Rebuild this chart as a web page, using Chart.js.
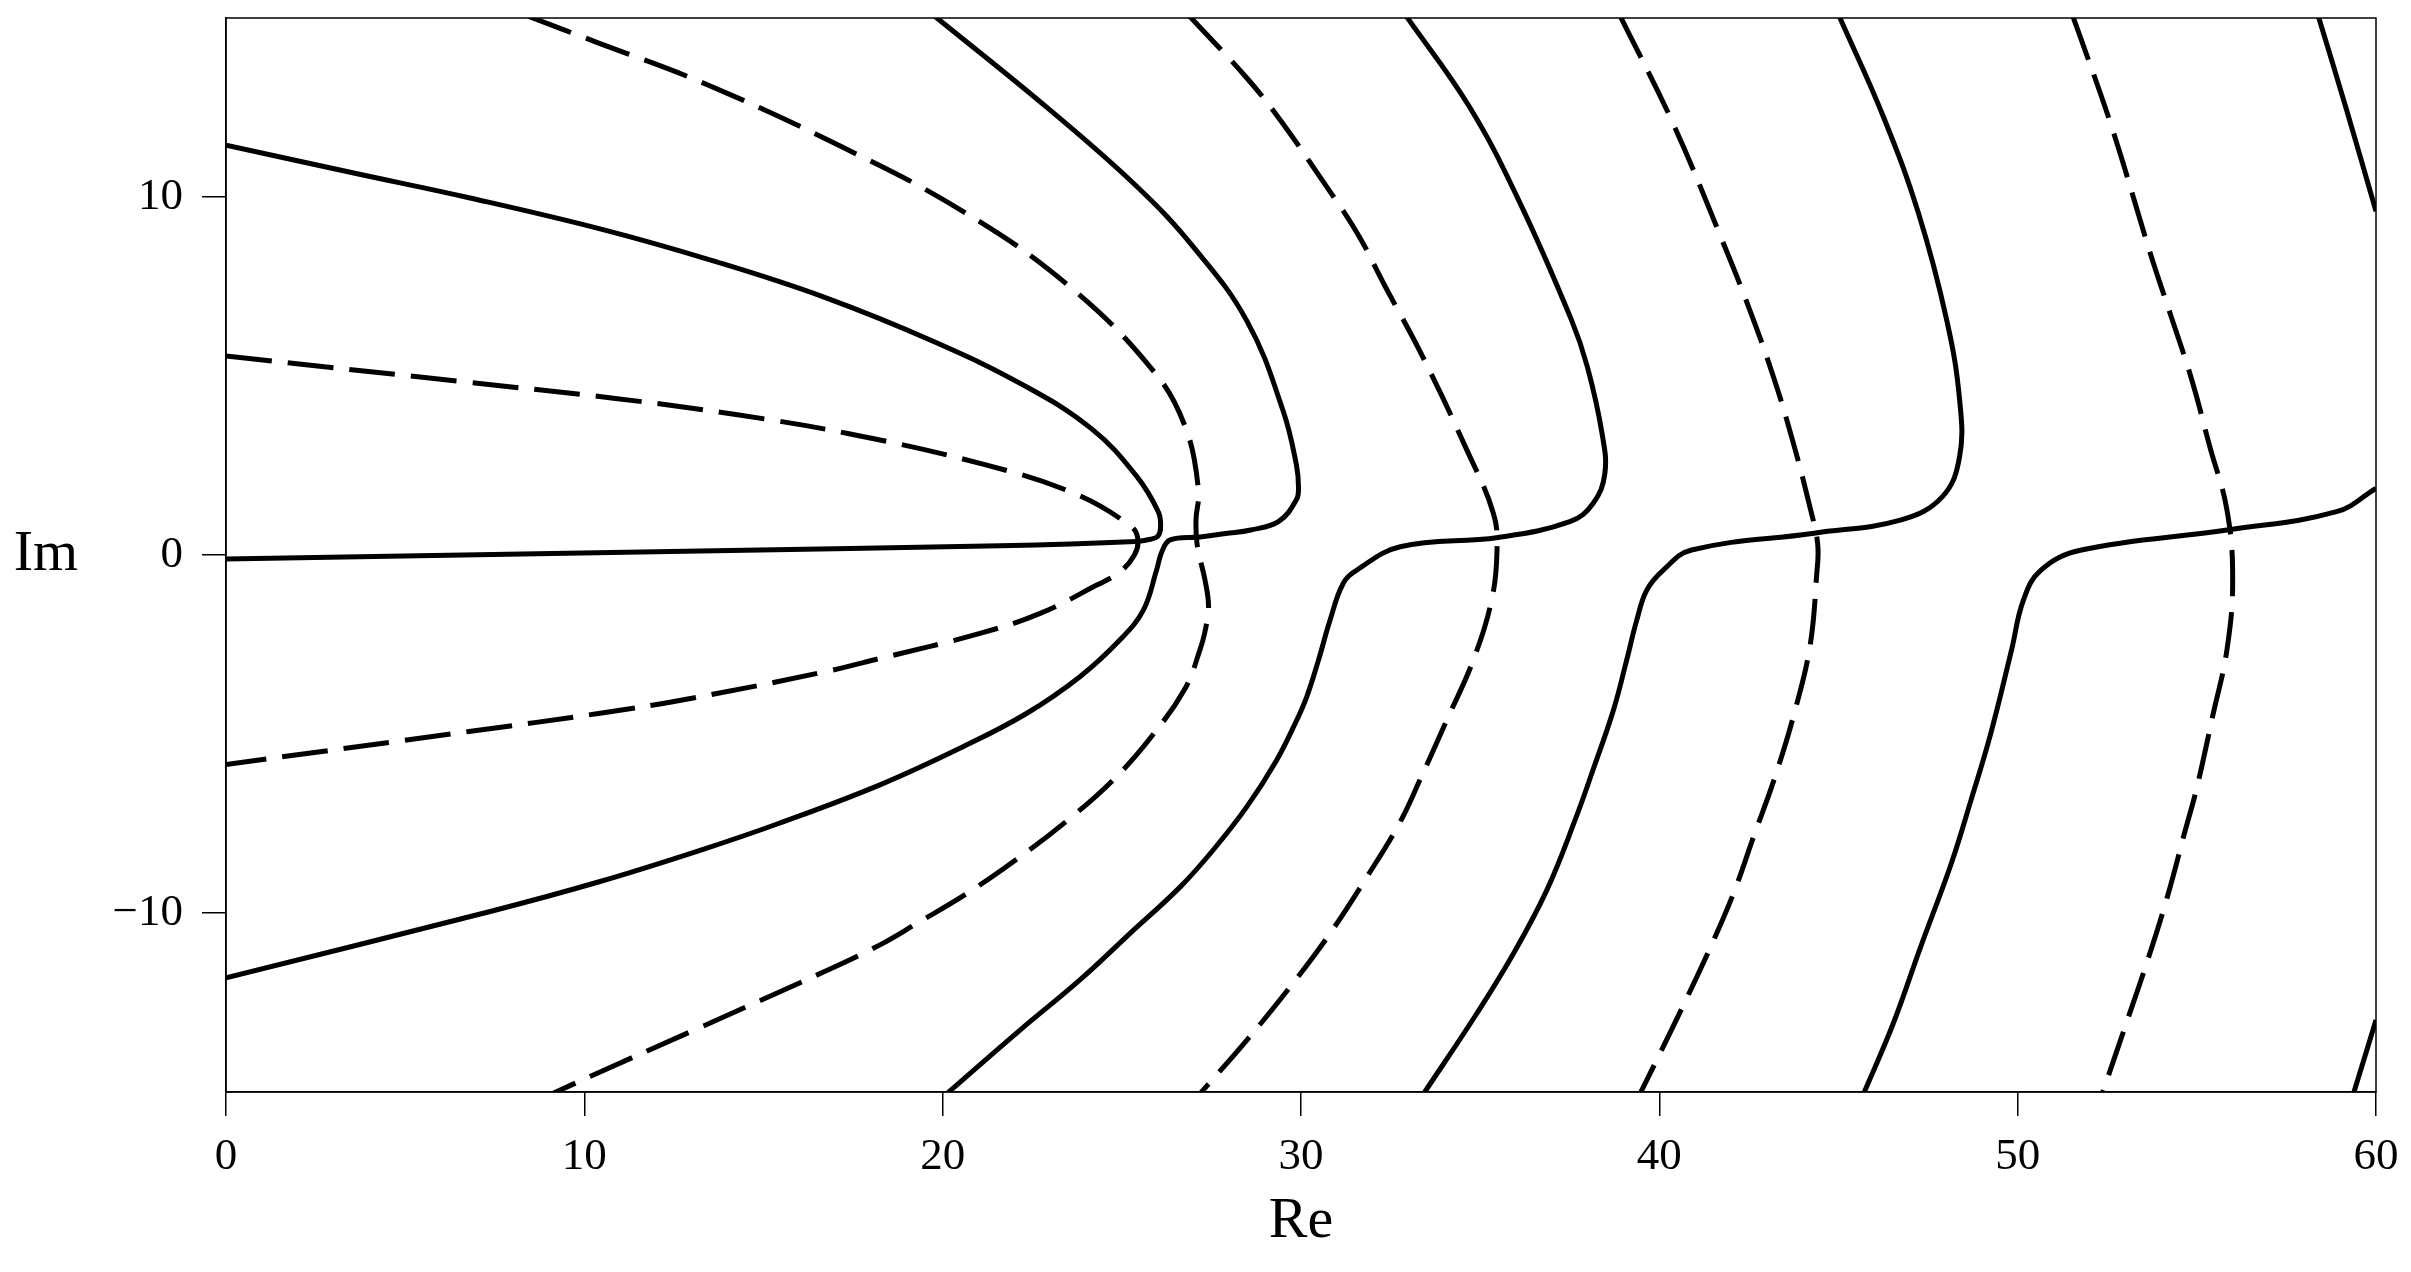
<!DOCTYPE html>
<html>
<head>
<meta charset="utf-8">
<script src="https://cdn.jsdelivr.net/npm/chart.js@4.4.1/dist/chart.umd.min.js"></script>
<style>
  html, body { margin: 0; padding: 0; background: #fff; }
  canvas { display: block; }
</style>
</head>
<body>
<canvas id="plot" width="2411" height="1272"></canvas>
<script>
'use strict';

// contour lines, as [Re, Im] pairs
let solidA = [[0,-0.11],[13.23,0.11],[21.6,0.26],[25.39,0.38],[25.8,0.44],[26.0,0.52],[26.08,0.75],[26.02,1.2],[25.39,2.23],[24.15,3.53],[22.28,4.73],[19.78,5.95],[16.67,7.21],[13.55,8.23],[10.44,9.11],[6.78,9.98],[3.66,10.65],[0,11.45]];
let solidB = [[0,-11.81],[7.4,-9.95],[10.44,-9.12],[13.23,-8.25],[15.42,-7.5],[18.25,-6.42],[20.58,-5.35],[22.35,-4.42],[23.83,-3.4],[24.95,-2.37],[25.6,-1.54],[25.97,-0.42],[26.12,0.1],[26.35,0.42],[27.18,0.5],[27.9,0.6],[28.6,0.7],[29.38,0.94],[29.87,1.54],[29.93,1.9],[29.87,2.53],[29.5,4.03],[28.5,6.52],[27.0,8.6],[25.39,10.32],[22.9,12.51],[19.78,15.05]];
let solidC = [[20.11,-15.05],[22.16,-13.27],[23.83,-11.87],[25.23,-10.57],[26.63,-9.27],[27.55,-8.24],[28.49,-7.03],[29.32,-5.73],[29.84,-4.7],[30.16,-3.96],[30.49,-2.93],[30.81,-1.82],[31.18,-0.79],[31.56,-0.42],[32.77,0.23],[35.5,0.49],[37.5,0.93],[38.15,1.44],[38.48,2.28],[38.4,3.4],[37.99,5.26],[37.55,6.56],[36.07,9.92],[34.7,12.52],[32.94,15.05]];
let solidD = [[33.42,-15.05],[34.91,-12.8],[35.93,-11.13],[36.86,-9.36],[37.65,-7.4],[38.15,-6.0],[38.72,-4.33],[39.09,-2.93],[39.37,-1.82],[39.65,-0.98],[40.11,-0.42],[40.9,0.14],[44.32,0.61],[46.75,0.98],[47.9,1.63],[48.38,2.75],[48.38,4.33],[48.02,6.56],[47.23,9.55],[46.25,12.25],[45.02,15.05]];
let solidE = [[45.7,-15.05],[46.53,-13.08],[47.28,-10.98],[48.15,-8.61],[48.7,-6.84],[49.25,-4.98],[49.83,-2.65],[50.16,-1.26],[50.65,-0.42],[51.78,0.14],[55.84,0.7],[58.9,1.21],[60,1.86]];
let solidF = [[58.39,15.05],[59.18,12.43],[60,9.6]];
let solidG = [[59.37,-15.05],[60,-12.99]];

let dashedA = [[0,5.56],[6.78,4.82],[10.81,4.38],[14.18,3.93],[17.42,3.38],[21.15,2.53],[23.65,1.73],[25.27,0.79],[25.45,0.42],[25.35,0.0],[24.95,-0.47],[24.3,-0.84],[22.72,-1.63],[21.04,-2.19],[18.25,-2.89],[16.67,-3.27],[13.0,-4.0],[10.44,-4.42],[6.78,-4.93],[0,-5.85]];
let dashedB = [[8.43,15.05],[10.4,14.3],[13.4,13.15],[17.17,11.41],[20.53,9.62],[23.52,7.52],[25.89,5.13],[26.78,3.55],[27.14,1.81],[27.07,1.0],[27.1,0.3],[27.32,-0.7],[27.42,-1.44],[27.32,-2.14],[27.18,-2.65],[26.77,-3.72],[25.79,-5.12],[24.76,-6.28],[23.56,-7.35],[22.16,-8.43],[20.76,-9.4],[19.28,-10.29],[18.25,-10.89],[16.67,-11.65],[13.0,-13.3],[10.44,-14.44],[9.1,-15.05]];
let dashedC = [[26.89,15.05],[28.5,13.31],[29.42,12.15],[30.59,10.47],[31.57,8.99],[32.35,7.5],[33.37,5.59],[34.63,2.93],[35.37,1.16],[35.47,0.14],[35.32,-1.26],[34.81,-2.93],[34.07,-4.61],[33.32,-6.28],[32.77,-7.45],[31.84,-8.99],[30.81,-10.57],[29.7,-12.06],[28.49,-13.55],[27.18,-15.05]];
let dashedD = [[38.91,15.05],[40.38,12.06],[41.75,8.8],[42.54,6.8],[43.2,4.93],[43.73,3.16],[44.2,1.35],[44.42,0.3],[44.39,-0.56],[44.21,-2.51],[43.79,-4.33],[43.23,-6.19],[42.63,-7.87],[42.07,-9.45],[41.37,-11.08],[40.63,-12.66],[39.88,-14.2],[39.46,-15.05]];
let dashedE = [[51.54,15.05],[52.62,11.97],[53.7,8.43],[54.28,6.67],[54.86,4.89],[55.35,3.07],[55.84,1.26],[56.0,-0.7],[55.84,-2.65],[55.44,-4.51],[55.0,-6.5],[54.68,-7.68],[54.18,-9.54],[53.6,-11.4],[53.0,-13.17],[52.36,-15.05]];

let solidCurves = [solidA, solidB, solidC, solidD, solidE, solidF, solidG];
let dashedCurves = [dashedA, dashedB, dashedC, dashedD, dashedE];

let xTicks = [0, 10, 20, 30, 40, 50, 60];
let yTicks = [-10, 0, 10];

Chart.defaults.font.family = '"Liberation Serif", "Times New Roman", serif';
Chart.defaults.color = '#000';

function toPoints(curve) {
  return curve.map(p => ({ x: p[0], y: p[1] }));
}

let datasets = [];
for (let c of solidCurves) {
  datasets.push({ data: toPoints(c), showLine: true, borderColor: '#000', borderWidth: 5, pointRadius: 0, tension: 0.4, clip: 0 });
}
for (let c of dashedCurves) {
  datasets.push({ data: toPoints(c), showLine: true, borderColor: '#000', borderWidth: 5, borderDash: [46, 16], pointRadius: 0, tension: 0.4, clip: 0 });
}

// box round the plot and the unrotated "Im" label
let framePlugin = {
  id: 'frame',
  afterDraw(chart) {
    let ctx = chart.ctx;
    let a = chart.chartArea;
    ctx.save();
    ctx.strokeStyle = '#000';
    ctx.lineWidth = 1.5;
    ctx.strokeRect(a.left, a.top, a.right - a.left, a.bottom - a.top);
    ctx.fillStyle = '#000';
    ctx.font = '58px "Liberation Serif"';
    ctx.textAlign = 'center';
    ctx.textBaseline = 'middle';
    ctx.fillText('Im', 46, chart.scales.y.getPixelForValue(0));
    ctx.restore();
  }
};

const config = {
  type: 'scatter',
  data: { datasets: datasets },
  options: {
    responsive: false,
    animation: false,
    devicePixelRatio: 1,
    layout: { padding: { left: 0, right: 35, top: 18, bottom: 0 } },
    plugins: { legend: { display: false }, tooltip: { enabled: false } },
    scales: {
      x: {
        type: 'linear',
        min: 0,
        max: 60,
        afterBuildTicks: scale => { scale.ticks = xTicks.map(v => ({ value: v })); },
        afterFit: scale => {
          scale.height = 180;
          scale.paddingLeft = 0;
          scale.paddingRight = 0;
        },
        ticks: { font: { size: 45, lineHeight: 1.2 }, padding: 14, maxRotation: 0, color: '#000' },
        grid: { drawOnChartArea: false, drawTicks: true, tickLength: 24, color: '#000', lineWidth: 1.5 },
        border: { display: true, color: '#000', width: 1.5 },
        title: { display: true, text: 'Re', font: { size: 58, lineHeight: 1.2 }, padding: { top: 0, bottom: 15 }, color: '#000' }
      },
      y: {
        type: 'linear',
        min: -15,
        max: 15,
        afterBuildTicks: scale => { scale.ticks = yTicks.map(v => ({ value: v })); },
        afterFit: scale => {
          scale.width = 226;
          scale.paddingTop = 0;
          scale.paddingBottom = 0;
        },
        ticks: {
          font: { size: 45, lineHeight: 1.2 },
          padding: 19,
          color: '#000',
          callback: v => (v < 0 ? '\u2212' + Math.abs(v) : String(v))
        },
        grid: { drawOnChartArea: false, drawTicks: true, tickLength: 24, color: '#000', lineWidth: 1.5 },
        border: { display: true, color: '#000', width: 1.5 }
      }
    }
  },
  plugins: [framePlugin]
};

const plot = new Chart(document.getElementById('plot'), config);
</script>
</body>
</html>
